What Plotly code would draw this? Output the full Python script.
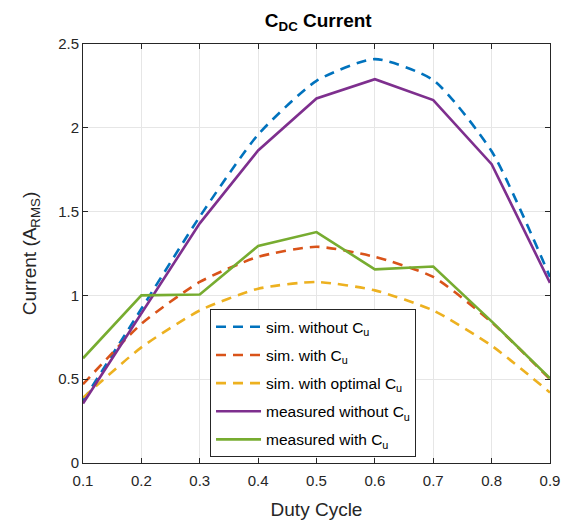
import plotly.graph_objects as go

duty = [0.1, 0.2, 0.3, 0.4, 0.5, 0.6, 0.7, 0.8, 0.9]
sim_without = [0.37, 0.92, 1.47, 1.96, 2.28, 2.41, 2.285, 1.86, 1.11]
sim_with = [0.47, 0.83, 1.08, 1.23, 1.29, 1.23, 1.11, 0.84, 0.50]
sim_optimal = [0.39, 0.69, 0.91, 1.04, 1.08, 1.03, 0.91, 0.70, 0.42]
meas_without = [0.355, 0.89, 1.43, 1.865, 2.175, 2.29, 2.165, 1.783, 1.075]
meas_with = [0.625, 1.0, 1.005, 1.295, 1.378, 1.155, 1.172, 0.845, 0.505]

names = ["sim. without C<sub>u</sub>", "sim. with C<sub>u</sub>", "sim. with optimal C<sub>u</sub>",
         "measured without C<sub>u</sub>", "measured with C<sub>u</sub>"]
colors = ["#0072BD", "#D95319", "#EDB120", "#7E2F8E", "#77AC30"]

fig = go.Figure()
series = [sim_without, sim_with, sim_optimal, meas_without, meas_with]
for i, ys in enumerate(series):
    dashed = i < 3
    fig.add_trace(go.Scatter(
        x=duty, y=ys, mode="lines", name=names[i], legendgroup=f"g{i}",
        line=dict(color=colors[i], width=2.6,
                  dash="10px,7px" if dashed else "solid",
                  shape="spline" if dashed else "linear", smoothing=0.6),
    ))

font = "Liberation Sans, Arial, Helvetica, sans-serif"
axis_common = dict(showgrid=True, gridcolor="#e6e6e6", gridwidth=1,
                   showline=True, linecolor="#262626", linewidth=1, mirror="ticks",
                   ticks="inside", ticklen=5, tickcolor="#262626",
                   zeroline=False, automargin=False, tickfont=dict(size=15))
# page body adds an 8px offset, so figure is sized 561x515
fig.update_layout(
    width=561, height=515,
    margin=dict(l=75, r=19, t=36, b=60),
    paper_bgcolor="white", plot_bgcolor="white",
    font=dict(family=font, color="#262626", size=15),
    title=dict(text="<b>C<sub>DC</sub> Current</b>", x=0.553, xanchor="center",
               y=0.976, yanchor="middle", font=dict(size=19, color="black")),
    xaxis=dict(range=[0.1, 0.9], tickvals=duty, ticktext=[f"{v:.1f}" for v in duty],
               title=dict(text="Duty Cycle", font=dict(size=19), standoff=14),
               ticklabelstandoff=4,
               **axis_common),
    yaxis=dict(range=[0, 2.5], tickvals=[0, 0.5, 1, 1.5, 2, 2.5],
               ticktext=["0", "0.5", "1", "1.5", "2", "2.5"],
               title=dict(text="Current (A<sub>RMS</sub>)", font=dict(size=19), standoff=16),
               **axis_common),
    legend=dict(x=0.272, y=0.367, xanchor="left", yanchor="top",
                bgcolor="white", bordercolor="#262626", borderwidth=1,
                font=dict(size=15.5, color="black"), tracegroupgap=5,
                itemwidth=45),
    showlegend=True,
)

fig.write_html("out.html")
